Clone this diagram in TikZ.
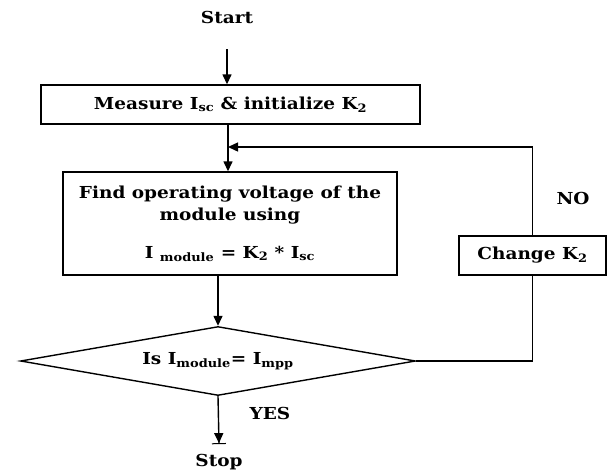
\documentclass[tikz,border=0pt]{standalone}
\usepackage{fontspec}
\setmainfont[FakeStretch=1.12]{DejaVu Serif}
\usetikzlibrary{arrows.meta,shapes.geometric}

\begin{document}
\begin{tikzpicture}[x=1pt,y=-1pt,
    line width=1.4pt,
    font=\bfseries\fontsize{16.5}{22}\selectfont,
    arr/.style={-{Triangle[length=10pt,width=9pt]}},
    box/.style={draw,rectangle,inner sep=0pt,align=center}]
    \useasboundingbox (0,0) rectangle (613,474);
    \node (start) at (227,17) {Start};
    \node[box,minimum width=379pt,minimum height=39pt] (measure) at (230.5,104.5)
        {Measure I\textsubscript{sc} \& initialize K\textsubscript{2}};
    \node[box,minimum width=334pt,minimum height=103pt] (find) at (230,223.5)
        {Find operating voltage of the\\ module using\\[16pt]
         I \textsubscript{module} = K\textsubscript{2} * I\textsubscript{sc}};
    \node[draw,diamond,aspect=5.7,inner sep=0pt,minimum width=395pt,minimum height=69pt] (check) at (218,361)
        {Is I\textsubscript{module}= I\textsubscript{mpp}};
    \node[box,minimum width=147pt,minimum height=39pt] (change) at (532.5,255.5) {Change K\textsubscript{2}};
    \node (no) at (573,198) {NO};
    \node (yes) at (270,413) {YES};
    \node (stop) at (219,462) {Stop};
    \coordinate (join) at (228,147);
    % main flow
    \draw[arr] ([yshift=-22pt]start.south) -- (start.south |- measure.north);
    \draw[arr] (measure.south -| join) -- (find.north -| join);
    \draw[arr] (find.south -| check.north) -- (check.north);
    \draw[-{Triangle[length=10pt,width=9pt]Bar[width=14pt,line width=1pt]}]
        (check.south) -- ([yshift=6pt]stop.north);
    % loop back
    \draw (check.east) -| (change.south);
    \draw[arr] (change.north) |- (join);
\end{tikzpicture}
\end{document}
